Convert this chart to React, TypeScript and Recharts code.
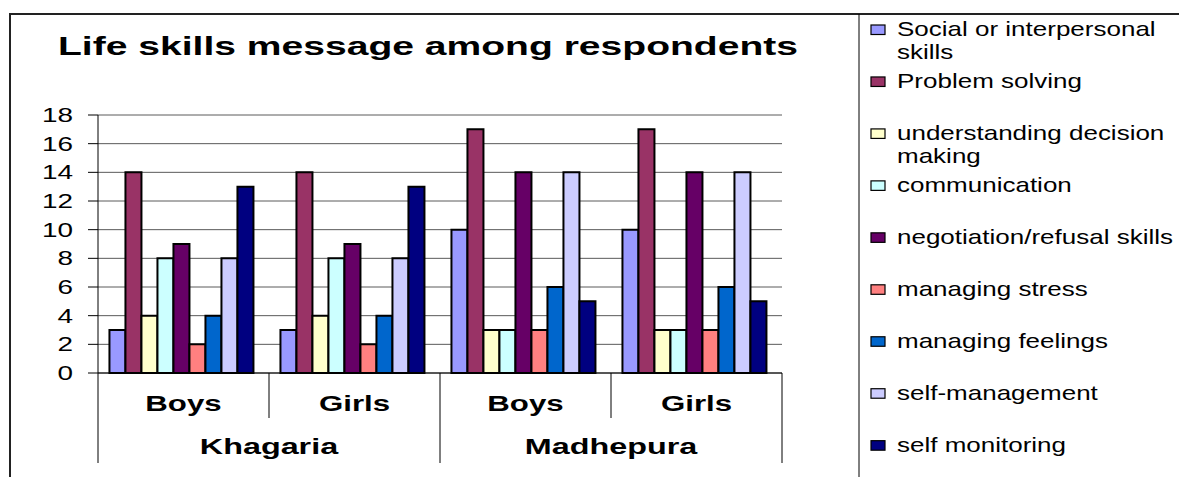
import { BarChart, Bar, XAxis, YAxis, CartesianGrid } from 'recharts';

const groups = ['Boys', 'Girls', 'Boys', 'Girls'];
const districts = ['Khagaria', 'Khagaria', 'Madhepura', 'Madhepura'];

const socialSkills = [3, 3, 10, 10];
const problemSolving = [14, 14, 17, 17];
const decisionMaking = [4, 4, 3, 3];
const communication = [8, 8, 3, 3];
const negotiation = [9, 9, 14, 14];
const managingStress = [2, 2, 3, 3];
const managingFeelings = [4, 4, 6, 6];
const selfManagement = [8, 8, 14, 14];
const selfMonitoring = [13, 13, 5, 5];

const seriesLabels = [
  'Social or interpersonal\nskills',
  'Problem solving',
  'understanding decision\nmaking',
  'communication',
  'negotiation/refusal skills',
  'managing stress',
  'managing feelings',
  'self-management',
  'self monitoring',
];
const seriesColors = [
  '#9999FF', '#993366', '#FFFFCC', '#CCFFFF', '#660066',
  '#FF8080', '#0066CC', '#CCCCFF', '#000080',
];
const seriesValues = [
  socialSkills, problemSolving, decisionMaking, communication, negotiation,
  managingStress, managingFeelings, selfManagement, selfMonitoring,
];
const yTicks = [0, 2, 4, 6, 8, 10, 12, 14, 16, 18];

const data = groups.map((g, i) => {
  const row: Record<string, string | number> = { group: g, district: districts[i] };
  seriesValues.forEach((vals, s) => {
    row[`s${s}`] = vals[i];
  });
  return row;
});

const W = 1179;
const H = 477;
const FONT = '"Liberation Sans", Arial, sans-serif';
const Y_AXIS_W = 60;
const MARGIN = { top: 115, right: 397, bottom: 14, left: 38 };
const PLOT_W = W - MARGIN.left - MARGIN.right - Y_AXIS_W;
const BAND = PLOT_W / groups.length;

function YTick(props: any) {
  const { x, y, payload } = props;
  return (
    <text
      transform={`translate(${x},${y}) scale(1.43,1)`}
      textAnchor="end"
      dy="0.36em"
      fontFamily={FONT}
      fontSize={19.5}
      fill="#000"
    >
      {payload.value}
    </text>
  );
}

function XTick(props: any) {
  const { x, y, payload, index } = props;
  const left = x - BAND / 2;
  const even = index % 2 === 0;
  return (
    <g>
      <line x1={left} y1={y} x2={left} y2={y + (even ? 90 : 45)} stroke="#000" strokeWidth={1} />
      {index === groups.length - 1 && (
        <line x1={x + BAND / 2} y1={y} x2={x + BAND / 2} y2={y + 90} stroke="#000" strokeWidth={1} />
      )}
      <text
        transform={`translate(${x},${y + 38}) scale(1.42,1)`}
        textAnchor="middle"
        fontFamily={FONT}
        fontWeight="bold"
        fontSize={22}
        fill="#000"
      >
        {payload.value}
      </text>
      {even && (
        <text
          transform={`translate(${x + BAND / 2},${y + 81}) scale(1.47,1)`}
          textAnchor="middle"
          fontFamily={FONT}
          fontWeight="bold"
          fontSize={22}
          fill="#000"
        >
          {districts[index]}
        </text>
      )}
    </g>
  );
}

function Overlay() {
  return (
    <svg
      width={W}
      height={H}
      style={{ position: 'absolute', left: 0, top: 0, pointerEvents: 'none' }}
    >
      <line x1={9} y1={14} x2={W} y2={14} stroke="#222" strokeWidth={2} />
      <line x1={10} y1={14} x2={10} y2={H} stroke="#222" strokeWidth={2} />
      <line x1={859} y1={14} x2={859} y2={H} stroke="#000" strokeWidth={1} />
      <text
        x={58}
        y={55}
        textLength={740}
        lengthAdjust="spacingAndGlyphs"
        fontFamily={FONT}
        fontWeight="bold"
        fontSize={26}
        fill="#000"
      >
        Life skills message among respondents
      </text>
      {seriesLabels.map((label, i) => {
        const base = 36 + 51.96 * i;
        return (
          <g key={label}>
            <rect x={871} y={base - 11} width={14} height={9.5} fill={seriesColors[i]} stroke="#000" strokeWidth={1.2} />
            {label.split('\n').map((line, j) => (
              <text
                key={line}
                transform={`translate(897,${base + j * 23}) scale(1.3,1)`}
                fontFamily={FONT}
                fontSize={20}
                fill="#000"
              >
                {line}
              </text>
            ))}
          </g>
        );
      })}
    </svg>
  );
}

export default function App() {
  return (
    <div style={{ position: 'absolute', left: 0, top: 0, width: W, height: H, background: '#fff' }}>
      <BarChart
        width={W}
        height={H}
        data={data}
        margin={MARGIN}
        barCategoryGap="6.7%"
        barGap={0}
      >
        <CartesianGrid vertical={false} stroke="#5a5a5a" strokeWidth={1} yAxisId="left" />
        <XAxis
          dataKey="group"
          height={90}
          interval={0}
          tickLine={false}
          tickSize={0}
          tickMargin={0}
          axisLine={{ stroke: '#000', strokeWidth: 1 }}
          tick={XTick}
        />
        <YAxis
          yAxisId="left"
          width={Y_AXIS_W}
          domain={[0, 18]}
          ticks={yTicks}
          interval={0}
          tickSize={10}
          tickMargin={15}
          axisLine={{ stroke: '#000' }}
          tickLine={{ stroke: '#000' }}
          tick={YTick}
        />
        <YAxis
          yAxisId="right"
          orientation="right"
          width={0}
          domain={[0, 18]}
          tick={false}
          tickLine={false}
          axisLine={{ stroke: '#888', strokeWidth: 1.5 }}
        />
        {seriesLabels.map((label, i) => (
          <Bar
            key={label}
            yAxisId="left"
            dataKey={`s${i}`}
            name={label.replace('\n', ' ')}
            fill={seriesColors[i]}
            stroke="#000"
            strokeWidth={2}
            isAnimationActive={false}
          />
        ))}
      </BarChart>
      <Overlay />
    </div>
  );
}
